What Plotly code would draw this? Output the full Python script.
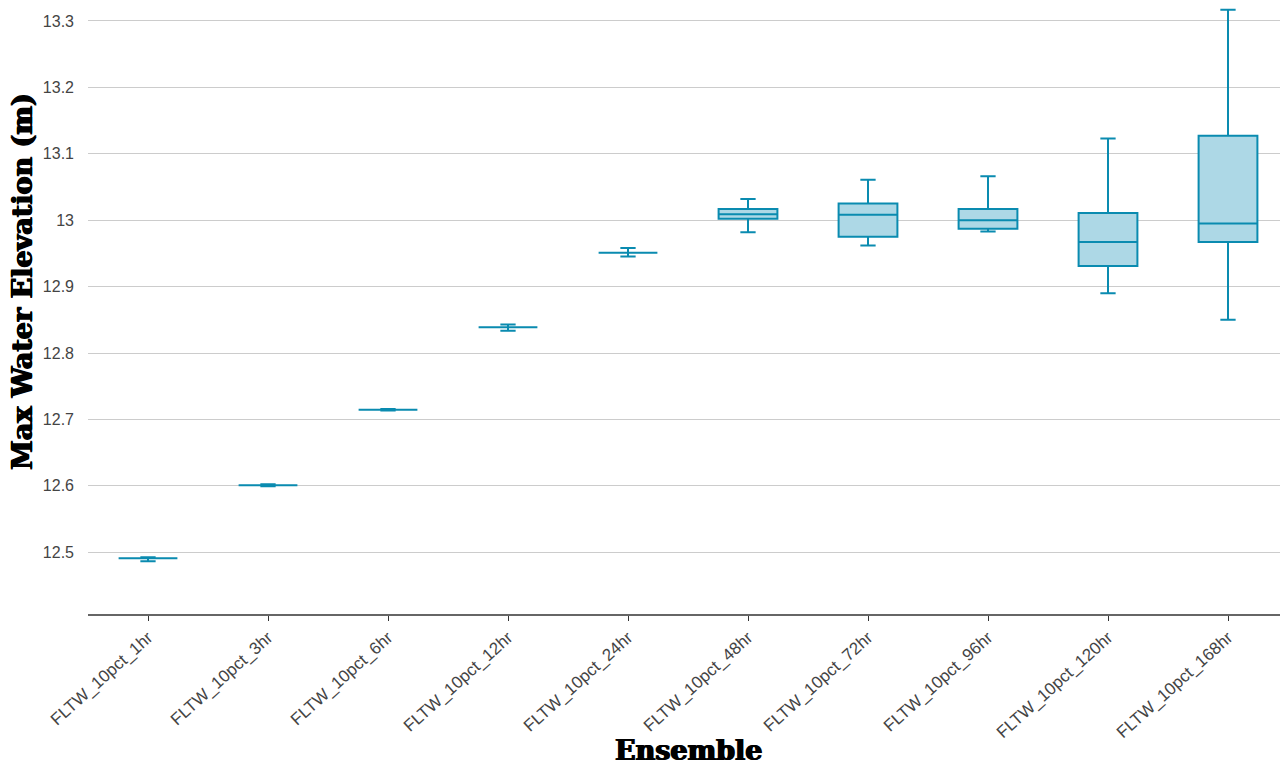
import plotly.graph_objects as go

categories = ["FLTW_10pct_1hr", "FLTW_10pct_3hr", "FLTW_10pct_6hr", "FLTW_10pct_12hr",
              "FLTW_10pct_24hr", "FLTW_10pct_48hr", "FLTW_10pct_72hr", "FLTW_10pct_96hr",
              "FLTW_10pct_120hr", "FLTW_10pct_168hr"]
lower_whisker = [12.4866, 12.5995, 12.7135, 12.8335, 12.9455, 12.982, 12.962, 12.983, 12.890, 12.850]
q1 = [12.4910, 12.6010, 12.7145, 12.8386, 12.9510, 13.002, 12.975, 12.987, 12.931, 12.967]
median = [12.4910, 12.6010, 12.7145, 12.8386, 12.9510, 13.009, 13.008, 13.000, 12.967, 12.995]
q3 = [12.4910, 12.6010, 12.7145, 12.8386, 12.9510, 13.017, 13.025, 13.017, 13.011, 13.127]
upper_whisker = [12.4925, 12.6025, 12.7155, 12.8430, 12.9580, 13.032, 13.061, 13.066, 13.123, 13.317]

x_title = "Ensemble"
y_title = "Max Water Elevation (m)"

fig = go.Figure()
fig.add_trace(go.Box(
    x=categories,
    q1=q1, median=median, q3=q3,
    lowerfence=lower_whisker, upperfence=upper_whisker,
    boxpoints=False,
    fillcolor="#add8e6",
    line=dict(color="#0a8bb0", width=2),
    whiskerwidth=0.26,
    showlegend=False,
    hoverinfo="y",
))

title_font = dict(family="DejaVu Serif", size=27, color="black", weight="bold",
                  shadow="0.8px 0 0 black, -0.8px 0 0 black")

fig.update_layout(
    width=1280, height=757,
    margin=dict(l=80, r=0, t=0, b=151, autoexpand=False),
    paper_bgcolor="white", plot_bgcolor="white",
    boxgap=0.3,
    font=dict(family="Liberation Sans, Arial, sans-serif", color="#444"),
    xaxis=dict(
        type="category",
        automargin=False,
        tickangle=-42,
        tickfont=dict(size=17, color="#444"),
        showline=True, linecolor="#666", linewidth=2,
        ticks="outside", ticklen=5, tickcolor="#333", tickwidth=1,
        showgrid=False,
    ),
    yaxis=dict(
        automargin=False,
        range=[12.4070, 13.3195],
        tick0=12.5, dtick=0.1,
        tickfont=dict(size=16, color="#444"),
        showgrid=True, gridcolor="#cccccc", gridwidth=1,
        showline=False, zeroline=False,
        ticks="", ticklabelstandoff=13,
    ),
    annotations=[
        dict(text=x_title, font=title_font, xref="paper", yref="paper",
             x=0.5, y=0, xanchor="center", yanchor="middle", yshift=-136,
             borderpad=0, showarrow=False),
        dict(text=y_title, font=title_font, xref="paper", yref="paper",
             x=0, y=1 - 274 / 606, xanchor="center", yanchor="middle", xshift=-66,
             borderpad=0, textangle=-90, showarrow=False),
    ],
)

fig.write_html("out.html")
